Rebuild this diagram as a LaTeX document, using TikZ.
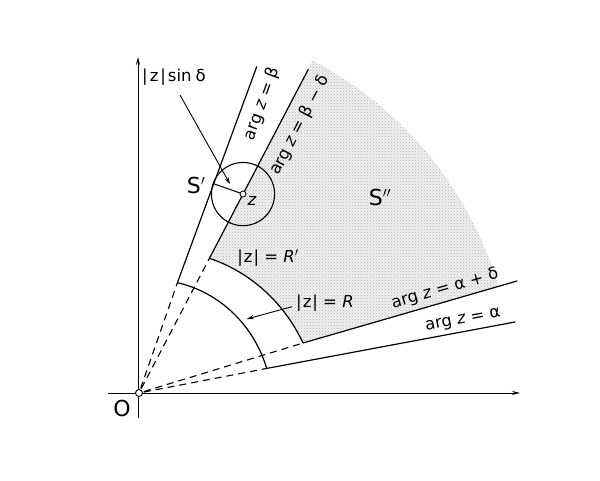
\documentclass[tikz,border=0pt]{standalone}
\usepackage{fontspec}
\setmainfont{DejaVu Sans}
\usetikzlibrary{arrows.meta,patterns,calc}
\begin{document}
\begin{tikzpicture}[x=1pt,y=1pt,
  lbl/.style={font=\fontsize{16.5}{16.5}\selectfont, inner sep=0pt},
  big/.style={font=\fontsize{22}{22}\selectfont, inner sep=0pt},
  curve/.style={line width=1.2pt, line join=round, line cap=round},
  dsh/.style={line width=1.1pt, dash pattern=on 7pt off 5pt},
  arr/.style={line width=0.9pt, -{Stealth[length=7pt,width=4pt]}},
  axis/.style={line width=1pt, -{Stealth[length=8pt,width=4pt]}}]
\useasboundingbox (0,0) rectangle (600,480);
\coordinate (O) at (139,87);
% axes
\draw[axis] (108,87) -- (520,87);
\draw[axis] (138,62) -- (138,423);
\begin{scope}[shift={(139,87)}]
  % shaded region S''
  \fill[gray!12] plot[domain=62.4:16.95,samples=40] (\x:{171.5-(\x-16.95)*0.43}) -- (16.5:375) arc[start angle=16.5,end angle=62.4,radius=375] -- cycle;
  \fill[pattern=crosshatch dots, pattern color=gray!60] plot[domain=62.4:16.95,samples=40] (\x:{171.5-(\x-16.95)*0.43}) -- (16.5:375) arc[start angle=16.5,end angle=62.4,radius=375] -- cycle;
  % corners
  \coordinate (Cb) at (70.8:116.8);
  \coordinate (Ca) at (10.9:130);
  \coordinate (Cbd) at (62.4:152);
  \coordinate (Cad) at (16.95:171.5);
  \coordinate (Eb) at (117.7,326.3);
  \coordinate (Ea) at (376,71);
  \coordinate (Ebd) at (169.3,323.7);
  \coordinate (Ead) at (378,112);
  % outer boundary of S
  \draw[curve] (Eb) -- (Cb) -- plot[domain=70.8:10.9,samples=40] (\x:{130-(\x-10.9)*0.22}) -- (Ea);
  % inner boundary
  \draw[curve] (Ebd) -- (Cbd) -- plot[domain=62.4:16.95,samples=40] (\x:{171.5-(\x-16.95)*0.43}) -- (Ead);
  % dashed rays
  \coordinate (Os) at (0,0);
  \draw[dsh] ($(Os)!5pt!(Cb)$) -- (Cb);
  \draw[dsh] ($(Os)!5pt!(Cbd)$) -- (Cbd);
  \draw[dsh] ($(Os)!5pt!(Ca)$) -- (Ca);
  \draw[dsh] ($(Os)!5pt!(Cad)$) -- (Cad);
  % point z and circle
  \coordinate (z) at (62.4:224.5);
  \coordinate (F) at ($(z)+(160.6:31.6)$);
  \draw[line width=1.1pt] (z) circle[radius=31.6];
  \draw[line width=1pt] (z) -- (F);
  \draw[line width=0.8pt, fill=white] (z) circle[radius=3];
  % origin
  \draw[line width=0.9pt, fill=white] (Os) circle[radius=3.5];
\end{scope}
% labels
\node[lbl, anchor=west] (ls) at (142,403) {|\hspace{2pt}z\hspace{2pt}|\hspace{2pt}sin\hspace{4pt}δ};
\coordinate (lsa) at (180,385);
\coordinate (lst) at (230,296);
\draw[arr] (lsa) -- (lst);
\node[big] (Sp) at (196,295) {S$'$};
\node[lbl] (zl) at (252,279) {\itshape z};
\node[big] (Spp) at (380,283) {S$''$};
\node[lbl] (Rp) at (268,222) {|\hspace{1pt}z\hspace{1pt}| = {\itshape R}$'$};
\node[lbl, anchor=west] (R) at (296,177) {|\hspace{1pt}z\hspace{1pt}| = {\itshape R}};
\coordinate (Rs) at (292,173.3);
\coordinate (Rt) at (246.7,161);
\draw[arr] (Rs) -- (Rt);
\node[lbl, rotate=16] (aad) at (445,191) {arg {\itshape z} = α + δ};
\node[lbl, rotate=10.5] (aa) at (463,159) {arg {\itshape z} = α};
\node[lbl, rotate=70] (bb) at (262,376) {arg {\itshape z} = β};
\node[lbl, rotate=62.4] (bbd) at (300,355) {arg {\itshape z} = β − δ};
\node[big] (Ol) at (122,72) {O};
\end{tikzpicture}
\end{document}
